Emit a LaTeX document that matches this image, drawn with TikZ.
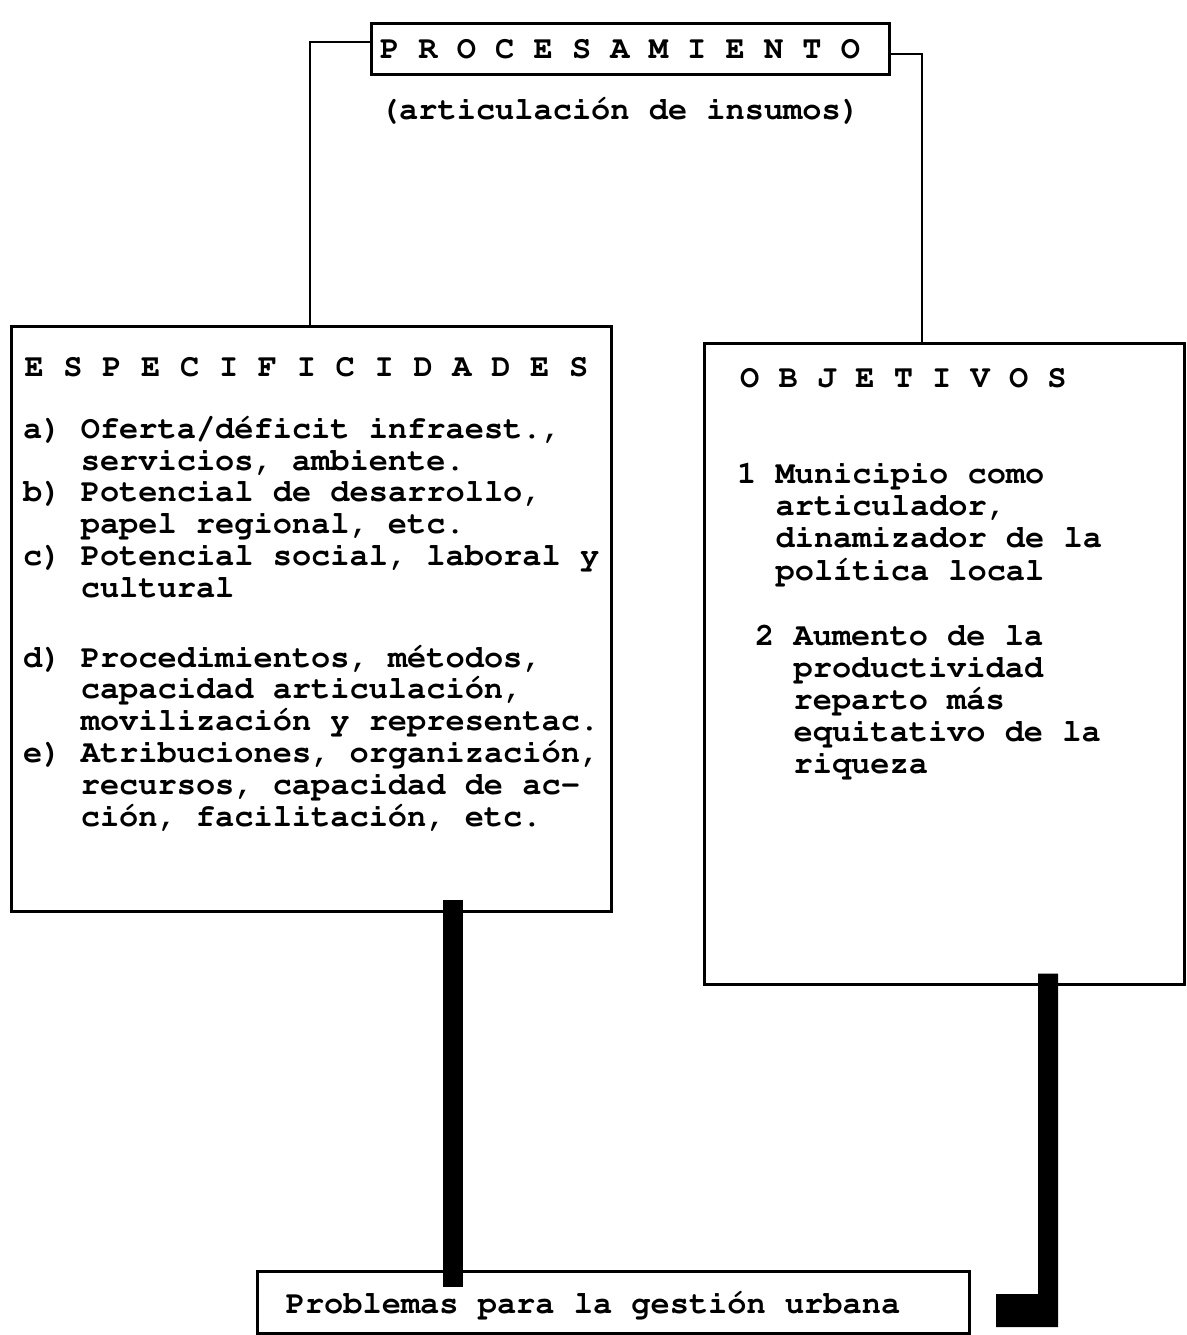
\documentclass[tikz,border=0pt]{standalone}
\usepackage[T1]{fontenc}
\usepackage{courier}
\usetikzlibrary{calc}
\newcommand\indthree{\hphantom{a)\ }}
\newcommand\indtwo{\hphantom{1\ }}
\newcommand\topstr{\rule{0pt}{28pt}}
\def\spacedletters#1#2{\def\spw{#1}\spacedloop#2\relax}
\def\spacedloop#1{\ifx#1\relax\else\makebox[\spw]{#1}\expandafter\spacedloop\fi}
\begin{document}
\begin{tikzpicture}[x=1pt,y=-1pt,
  box/.style={draw, line width=2.6pt, inner sep=0pt, anchor=north west},
  lbl/.style={inner sep=0pt, font=\ttfamily\bfseries\fontsize{32}{31.8}\selectfont},
  link/.style={line width=2.4pt},
  bar/.style={line width=19.5pt}]
\useasboundingbox (0,0) rectangle (1186,1335);
% boxes
\node[box, minimum width=518pt, minimum height=51pt] (proc) at (370,22) {};
\node[box, minimum width=600pt, minimum height=585pt] (esp) at (10,325) {};
\node[box, minimum width=480pt, minimum height=641pt] (obj) at (703,342) {};
\node[box, minimum width=712pt, minimum height=62pt] (prob) at (256,1270) {};
% texts
\node[lbl, anchor=base] (proct) at (620,59) {P R O C E S A M I E N T O};
\node[lbl, anchor=base] (sub) at (620,120) {(articulación de insumos)};
\node[lbl, anchor=base west] (espt) at (14.5,376) {\spacedletters{38.9pt}{ESPECIFICIDADES}};
\node[lbl, anchor=north west, align=left] (espb) at (23,410) {\topstr a) Oferta/déficit infraest.,\\
\indthree servicios, ambiente.\\
b) Potencial de desarrollo,\\
\indthree papel regional, etc.\\
c) Potencial social, laboral y\\
\indthree cultural\\[38pt]
d) Procedimientos, métodos,\\
\indthree capacidad articulación,\\
\indthree movilización y representac.\\
e) Atribuciones, organización,\\
\indthree recursos, capacidad de ac-\\
\indthree ción, facilitación, etc.};
\node[lbl, anchor=base west] (objt) at (740,387) {O B J E T I V O S};
\node[lbl, anchor=north west, align=left, font=\ttfamily\bfseries\fontsize{32}{32.3}\selectfont] (obj1) at (737,455) {\topstr 1 Municipio como\\
\indtwo articulador,\\
\indtwo dinamizador de la\\
\indtwo política local};
\node[lbl, anchor=north west, align=left, font=\ttfamily\bfseries\fontsize{32}{32}\selectfont] (obj2) at (755,617) {\topstr 2 Aumento de la\\
\indtwo productividad\\
\indtwo reparto más\\
\indtwo equitativo de la\\
\indtwo riqueza};
\node[lbl, anchor=base] (probt) at (593,1313) {Problemas para la gestión urbana};
% connectors
\coordinate (lc) at (310,0);
\coordinate (rc) at (922,0);
\coordinate (lb) at (453,0);
\coordinate (rb) at (1048,0);
\draw[link] ([yshift=7pt]proc.west) -| (lc |- esp.north);
\draw[link] ([yshift=-5pt]proc.east) -| (rc |- obj.north);
\draw[bar] ($(lb |- esp.south)+(0,-13)$) -- ($(lb |- prob.north)+(0,17)$);
\coordinate (rtop) at ($(rb |- obj.south)+(0,-12)$);
\fill (rtop) ++(-10,0) -- ++(20,0) -- (1058,1327) -- (996,1327) -- (996,1294) -- (1038,1294) -- cycle;
\end{tikzpicture}
\end{document}
